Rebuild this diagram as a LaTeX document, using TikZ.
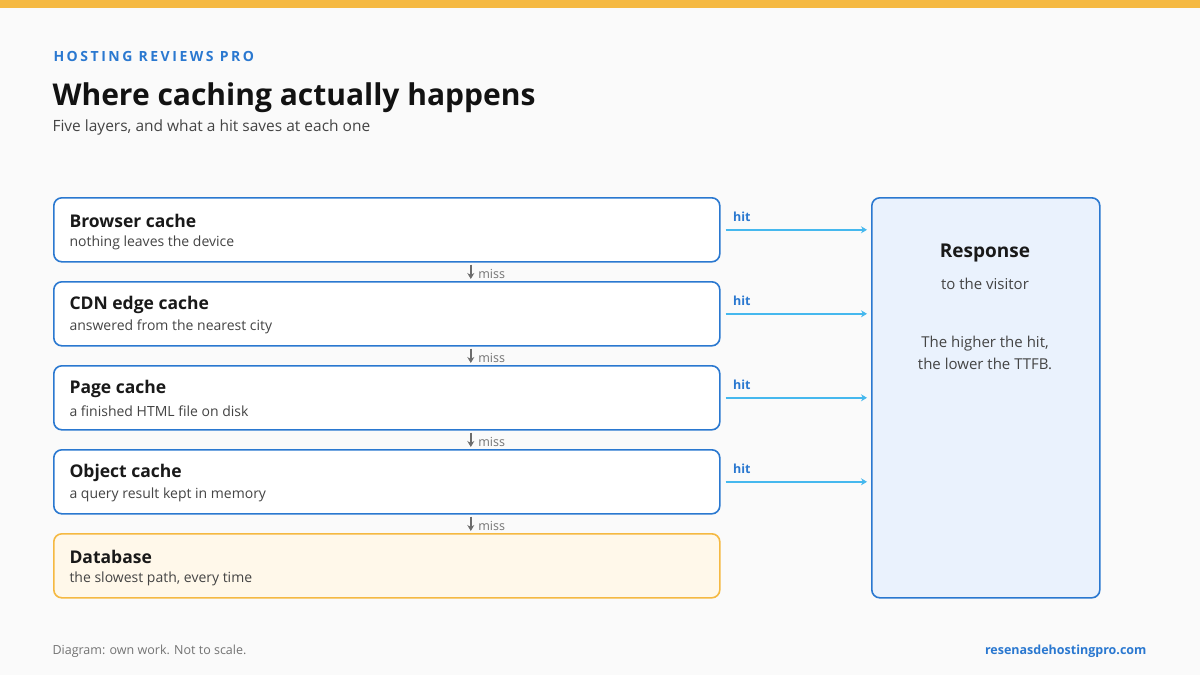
\documentclass[tikz,border=0pt]{standalone}
\usepackage{fontspec}
\setmainfont{Open Sans}
\usetikzlibrary{arrows.meta}
\definecolor{accent}{HTML}{2A78D0}
\definecolor{hitline}{HTML}{45B8EE}
\definecolor{gold}{HTML}{F5B942}
\definecolor{txt}{HTML}{444444}
\definecolor{page}{HTML}{FAFAFA}
\definecolor{dbfill}{HTML}{FFF8EA}
\definecolor{respfill}{HTML}{EAF2FD}
\tikzset{
  layer/.style={draw=accent, line width=1.6pt, rounded corners=8pt, fill=white, minimum width=666pt, minimum height=64pt, anchor=north west},
  head/.style={anchor=west, font=\fontsize{17.5}{20}\selectfont\bfseries, text=black!90},
  note/.style={anchor=west, font=\fontsize{14}{16}\selectfont, text=txt},
  miss/.style={draw=gray!85!black, line width=1.6pt, -{Stealth[length=6pt,width=7pt]}},
  hit/.style={draw=hitline, line width=1.6pt, -{Stealth[length=6pt,width=7pt]}, shorten <=5pt, shorten >=4pt}
}
\begin{document}
\begin{tikzpicture}[x=1pt, y=-1pt]
% Page
    \fill[page] (0,0) rectangle (1200,675);
    \useasboundingbox (0,0) rectangle (1200,675);
    \fill[gold] (0,0) rectangle (1200,8);
% Header
    \node[anchor=west, text=accent, font=\fontsize{14}{16}\selectfont\bfseries] (brand) at (50,56) {\addfontfeature{LetterSpace=18}HOSTING REVIEWS PRO};
    \node[anchor=west, font=\fontsize{30}{34}\selectfont\bfseries, text=black!93] (title) at (49,98) {Where caching actually happens};
    \node[anchor=west, font=\fontsize{15.5}{18}\selectfont, text=txt] (sub) at (49,127) {Five layers, and what a hit saves at each one};
% Layers
    \node[layer] (l1) at (53,197) {};
    \node[layer] (l2) at (53,281) {};
    \node[layer] (l3) at (53,365) {};
    \node[layer] (l4) at (53,449) {};
    \node[layer, draw=gold, fill=dbfill] (l5) at (53,533) {};
    \node[head] at (66,221) {Browser cache};
    \node[note] at (66,243) {nothing leaves the device};
    \node[head] at (66,305) {CDN edge cache};
    \node[note] at (66,327) {answered from the nearest city};
    \node[head] at (66,389) {Page cache};
    \node[note] at (66,411) {a finished HTML file on disk};
    \node[head] at (66,473) {Object cache};
    \node[note] at (66,495) {a query result kept in memory};
    \node[head] at (66,557) {Database};
    \node[note] at (66,579) {the slowest path, every time};
% Response
    \node[draw=accent, line width=1.6pt, rounded corners=8pt, fill=respfill, minimum width=228pt, minimum height=400pt, anchor=north west] (resp) at (871,197) {};
    \node[font=\fontsize{19}{22}\selectfont\bfseries, text=black!90] at (985,253) {Response};
    \node[font=\fontsize{15}{18}\selectfont, text=txt] at (985,284) {to the visitor};
    \node[font=\fontsize{15}{22}\selectfont, text=txt, align=center] at (985,353) {The higher the hit,\\the lower the TTFB.};
% Misses
    \foreach \a/\b in {l1/l2, l2/l3, l3/l4, l4/l5} {
        \draw[miss] ([xshift=84pt, yshift=-2pt]\a.south) -- ([xshift=84pt, yshift=2pt]\b.north);
        \node[anchor=west, font=\fontsize{12.5}{14}\selectfont, text=gray!90!black] at ([xshift=88pt, yshift=-11pt]\a.south) {miss};
    }
% Hits
    \foreach \a in {l1, l2, l3, l4} {
        \draw[hit] (\a.east) -- (\a.east -| resp.west);
        \node[anchor=west, text=accent, font=\fontsize{12.5}{14}\selectfont\bfseries] at ([xshift=9pt, yshift=13pt]\a.east) {hit};
    }
% Footer
    \node[anchor=west, font=\fontsize{12.5}{14}\selectfont, text=gray!90!black] (credit) at (49,651) {Diagram: own work. Not to scale.};
    \node[anchor=east, text=accent, font=\fontsize{12.5}{14}\selectfont\bfseries] (site) at (1150,651) {resenasdehostingpro.com};
\end{tikzpicture}
\end{document}
